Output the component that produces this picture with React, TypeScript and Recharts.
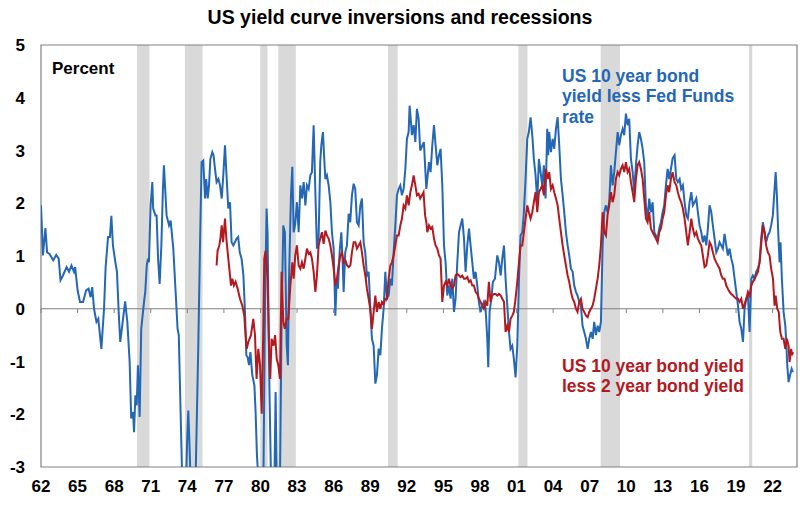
import React from "react";
import { LineChart, Line, XAxis, YAxis, ReferenceArea, ReferenceLine } from "recharts";

// US 10y bond yield less Fed Funds rate: [year, percent]
const blueSeries: [number, number][] = [
  [1962.0, 1.96], [1962.16, 1.01], [1962.36, 1.53], [1962.5, 1.07], [1962.7, 1.04], [1963.0, 0.92],
  [1963.25, 1.02], [1963.45, 0.95], [1963.6, 0.54], [1963.8, 0.63], [1964.1, 0.79], [1964.3, 0.7],
  [1964.5, 0.82], [1964.7, 0.7], [1964.8, 0.79], [1965.0, 0.35], [1965.2, 0.13], [1965.45, 0.13],
  [1965.7, 0.35], [1965.9, 0.38], [1966.07, 0.22], [1966.2, 0.41], [1966.35, 0.0], [1966.55, -0.25],
  [1966.7, -0.19], [1966.95, -0.76], [1967.17, 0.0], [1967.3, 0.79], [1967.5, 1.36], [1967.65, 1.36],
  [1967.77, 1.76], [1967.9, 1.2], [1968.1, 0.88], [1968.23, 0.7], [1968.37, -0.06], [1968.5, -0.63],
  [1968.7, -0.25], [1968.9, 0.14], [1969.08, -0.25], [1969.27, -1.01], [1969.4, -2.08], [1969.55, -1.96],
  [1969.63, -2.34], [1969.74, -1.64], [1969.85, -1.83], [1969.95, -1.07], [1970.09, -2.05], [1970.22, -0.38],
  [1970.45, 0.13], [1970.55, 0.32], [1970.67, 0.82], [1970.77, 0.95], [1970.85, 0.88], [1970.99, 1.96],
  [1971.13, 2.4], [1971.2, 1.9], [1971.38, 1.77], [1971.48, 1.77], [1971.6, 0.95], [1971.73, 0.47],
  [1971.87, 1.2], [1972.0, 2.27], [1972.08, 2.72], [1972.3, 1.77], [1972.5, 1.58], [1972.63, 1.67],
  [1972.85, 1.14], [1973.04, 0.32], [1973.2, -0.38], [1973.3, -0.5], [1973.48, -2.27], [1973.59, -3.3],
  [1973.7, -4.2], [1973.86, -3.6], [1974.0, -2.4], [1974.08, -1.93], [1974.18, -2.6], [1974.3, -3.5],
  [1974.45, -4.5], [1974.6, -4.0], [1974.68, -3.2], [1974.9, -0.7], [1975.04, 1.2], [1975.17, 2.78],
  [1975.31, 2.81], [1975.45, 2.09], [1975.55, 2.46], [1975.67, 2.09], [1975.78, 2.34], [1975.89, 2.84],
  [1976.05, 2.97], [1976.15, 2.91], [1976.27, 2.65], [1976.4, 2.4], [1976.55, 2.46], [1976.68, 2.34],
  [1976.82, 2.09], [1976.95, 2.53], [1977.09, 3.1], [1977.2, 2.59], [1977.36, 1.9], [1977.5, 2.02],
  [1977.63, 1.26], [1977.77, 1.2], [1977.9, 1.26], [1978.04, 1.33], [1978.17, 1.36], [1978.3, 1.07],
  [1978.45, 0.95], [1978.6, 0.63], [1978.73, -0.06], [1978.84, -0.88], [1978.95, -0.92], [1979.06, -1.07],
  [1979.17, -0.82], [1979.33, -1.26], [1979.5, -1.45], [1979.6, -1.96], [1979.71, -2.78], [1979.82, -3.2],
  [1979.95, -4.0], [1980.1, -5.0], [1980.23, -3.5], [1980.37, 0.06], [1980.5, 1.9], [1980.58, 1.45],
  [1980.72, -1.33], [1980.86, -3.2], [1981.0, -5.5], [1981.13, -3.5], [1981.24, -1.58], [1981.35, -3.5],
  [1981.5, -4.5], [1981.6, -3.2], [1981.73, -0.25], [1981.87, 1.58], [1982.0, 1.45], [1982.15, -0.7],
  [1982.25, -1.07], [1982.34, 0.57], [1982.5, 2.15], [1982.61, 2.69], [1982.72, 1.45], [1982.85, 1.61],
  [1982.99, 2.02], [1983.13, 1.45], [1983.27, 2.34], [1983.4, 2.09], [1983.54, 2.4], [1983.68, 1.96],
  [1983.81, 2.34], [1983.95, 2.27], [1984.09, 2.53], [1984.22, 2.59], [1984.36, 3.48], [1984.5, 2.21],
  [1984.63, 1.14], [1984.77, 1.39], [1984.9, 2.78], [1984.99, 3.1], [1985.12, 3.35], [1985.23, 2.84],
  [1985.32, 2.46], [1985.45, 2.53], [1985.59, 2.34], [1985.73, 2.02], [1985.86, 1.45], [1986.0, 1.14],
  [1986.14, -0.13], [1986.25, 0.57], [1986.35, 0.38], [1986.49, 1.07], [1986.63, 1.45], [1986.74, 0.88],
  [1986.82, 0.32], [1986.95, 1.07], [1987.09, 1.2], [1987.23, 1.8], [1987.36, 1.64], [1987.5, 2.15],
  [1987.64, 2.37], [1987.77, 2.27], [1987.91, 1.64], [1988.05, 1.58], [1988.19, 1.96], [1988.32, 2.09],
  [1988.46, 1.26], [1988.59, 1.07], [1988.73, 0.63], [1988.87, 0.7], [1989.0, 0.06], [1989.14, -0.57],
  [1989.28, -0.7], [1989.42, -1.42], [1989.55, -1.26], [1989.69, -0.76], [1989.83, -0.88], [1989.96, -0.38],
  [1990.1, 0.0], [1990.24, 0.7], [1990.37, 0.19], [1990.51, 0.25], [1990.65, 0.57], [1990.78, 0.44],
  [1990.92, 1.07], [1991.06, 1.58], [1991.19, 2.15], [1991.33, 2.27], [1991.47, 2.34], [1991.6, 2.15],
  [1991.74, 2.27], [1991.88, 2.65], [1992.01, 3.22], [1992.15, 3.35], [1992.23, 3.85], [1992.34, 3.54],
  [1992.42, 3.29], [1992.56, 3.48], [1992.7, 3.16], [1992.83, 3.79], [1992.97, 3.6], [1993.1, 3.0],
  [1993.4, 3.16], [1993.6, 2.27], [1993.82, 2.78], [1993.95, 2.59], [1994.09, 3.1], [1994.23, 3.48],
  [1994.36, 3.1], [1994.5, 2.72], [1994.64, 2.91], [1994.77, 3.03], [1994.91, 2.34], [1995.05, 1.2],
  [1995.18, 0.88], [1995.32, 0.25], [1995.46, 0.44], [1995.59, 0.19], [1995.73, 0.57], [1995.87, -0.06],
  [1996.0, 0.19], [1996.14, 0.88], [1996.28, 1.45], [1996.41, 1.58], [1996.55, 1.71], [1996.69, 1.33],
  [1996.82, 0.7], [1996.96, 1.2], [1997.1, 1.52], [1997.23, 1.2], [1997.37, 0.88], [1997.5, 0.57],
  [1997.64, 0.7], [1997.78, 0.44], [1997.91, 0.13], [1998.05, -0.06], [1998.19, 0.06], [1998.32, 0.13],
  [1998.46, 0.0], [1998.6, -0.57], [1998.68, -1.11], [1998.79, -0.06], [1998.93, 0.19], [1999.06, 0.51],
  [1999.23, 0.57], [1999.42, 1.01], [1999.56, 0.88], [1999.7, 0.63], [1999.83, 0.95], [1999.97, 1.2],
  [2000.1, 0.57], [2000.24, 0.06], [2000.38, -0.44], [2000.51, -0.76], [2000.65, -0.7], [2000.78, -0.95],
  [2000.92, -1.3], [2001.06, -0.7], [2001.2, 0.57], [2001.33, 1.39], [2001.47, 1.45], [2001.6, 1.83],
  [2001.74, 2.46], [2001.88, 3.22], [2002.01, 3.35], [2002.15, 3.63], [2002.29, 3.29], [2002.42, 2.84],
  [2002.56, 2.53], [2002.7, 2.02], [2002.83, 2.84], [2002.97, 2.59], [2003.11, 2.34], [2003.24, 2.72],
  [2003.38, 2.09], [2003.52, 3.41], [2003.6, 2.91], [2003.68, 3.35], [2003.82, 2.97], [2003.96, 3.22],
  [2004.09, 3.03], [2004.23, 3.41], [2004.37, 3.63], [2004.5, 3.1], [2004.64, 2.46], [2004.78, 2.15],
  [2004.91, 1.83], [2005.05, 1.45], [2005.19, 1.2], [2005.32, 1.01], [2005.46, 0.76], [2005.6, 0.7],
  [2005.73, 0.44], [2005.87, 0.32], [2006.0, 0.25], [2006.14, 0.13], [2006.28, 0.06], [2006.41, -0.32],
  [2006.55, -0.44], [2006.69, -0.57], [2006.83, -0.76], [2006.96, -0.57], [2007.1, -0.44], [2007.24, -0.57],
  [2007.37, -0.25], [2007.51, -0.5], [2007.65, -0.32], [2007.78, -0.44], [2007.92, -0.25], [2008.06, 1.2],
  [2008.19, 1.83], [2008.33, 1.96], [2008.46, 1.83], [2008.6, 2.02], [2008.74, 2.72], [2008.88, 2.34],
  [2009.01, 2.59], [2009.15, 2.97], [2009.29, 3.35], [2009.42, 3.1], [2009.56, 3.29], [2009.7, 3.41],
  [2009.83, 3.29], [2009.97, 3.7], [2010.11, 3.48], [2010.24, 3.6], [2010.38, 2.84], [2010.52, 2.59],
  [2010.65, 2.21], [2010.79, 2.72], [2010.93, 3.1], [2011.06, 3.35], [2011.2, 3.22], [2011.34, 3.03],
  [2011.47, 2.78], [2011.61, 1.96], [2011.75, 1.71], [2011.88, 2.09], [2012.02, 1.83], [2012.16, 2.02],
  [2012.3, 1.45], [2012.43, 1.39], [2012.57, 1.33], [2012.7, 1.52], [2012.84, 1.64], [2012.98, 1.83],
  [2013.11, 1.96], [2013.25, 2.34], [2013.39, 2.65], [2013.52, 2.46], [2013.66, 2.65], [2013.8, 2.85],
  [2013.96, 2.91], [2014.1, 2.46], [2014.23, 2.4], [2014.37, 2.46], [2014.5, 2.27], [2014.64, 2.34],
  [2014.78, 2.02], [2014.92, 1.77], [2015.05, 1.71], [2015.19, 2.02], [2015.33, 2.21], [2015.46, 1.96],
  [2015.6, 2.02], [2015.74, 2.09], [2015.87, 1.83], [2016.01, 1.58], [2016.15, 1.45], [2016.28, 1.26],
  [2016.42, 1.39], [2016.56, 1.2], [2016.69, 1.52], [2016.83, 1.96], [2016.97, 1.83], [2017.1, 1.58],
  [2017.24, 1.33], [2017.38, 1.07], [2017.51, 1.14], [2017.65, 1.26], [2017.79, 1.2], [2017.92, 1.14],
  [2018.06, 1.42], [2018.2, 1.2], [2018.33, 1.01], [2018.47, 1.14], [2018.61, 0.95], [2018.75, 0.82],
  [2018.88, 0.57], [2019.02, 0.32], [2019.16, 0.06], [2019.29, -0.25], [2019.43, -0.38], [2019.57, -0.63],
  [2019.7, 0.0], [2019.84, 0.19], [2019.98, 0.25], [2020.11, -0.44], [2020.25, 0.57], [2020.38, 0.63],
  [2020.52, 0.57], [2020.65, 0.7], [2020.79, 0.76], [2020.93, 0.88], [2021.06, 1.33], [2021.2, 1.64],
  [2021.34, 1.45], [2021.47, 1.26], [2021.61, 1.39], [2021.75, 1.45], [2021.88, 1.58], [2022.02, 1.77],
  [2022.16, 2.27], [2022.25, 2.59], [2022.35, 2.15], [2022.46, 1.45], [2022.57, 0.88], [2022.65, 1.26],
  [2022.76, 0.57], [2022.9, -0.06], [2023.04, -0.32], [2023.12, -0.63], [2023.2, -1.07], [2023.31, -1.39],
  [2023.43, -1.26], [2023.56, -1.14], [2023.66, -1.2],
];

// US 10y bond yield less 2y bond yield: [year, percent]
const redSeries: [number, number][] = [
  [1976.4, 0.82], [1976.48, 1.1], [1976.62, 1.2], [1976.72, 1.35], [1976.82, 1.58], [1976.93, 1.26],
  [1977.09, 1.71], [1977.2, 1.33], [1977.36, 0.95], [1977.5, 0.63], [1977.58, 0.44], [1977.69, 0.57],
  [1977.82, 0.44], [1977.96, 0.51], [1978.13, 0.38], [1978.32, 0.19], [1978.51, 0.06], [1978.67, -0.13],
  [1978.78, -0.5], [1978.87, -0.76], [1979.0, -0.63], [1979.22, -0.5], [1979.41, -0.19], [1979.55, -0.5],
  [1979.68, -1.33], [1979.82, -0.76], [1979.96, -1.07], [1980.1, -1.99], [1980.23, -0.38], [1980.31, 0.95],
  [1980.42, 1.1], [1980.58, 0.57], [1980.7, -0.7], [1980.8, -1.33], [1980.91, -0.57], [1981.07, -0.7],
  [1981.2, -0.5], [1981.33, -0.95], [1981.46, -1.07], [1981.6, -1.33], [1981.73, 0.7], [1981.87, -0.25],
  [1982.0, -0.38], [1982.14, -0.19], [1982.28, -0.19], [1982.45, 0.44], [1982.61, 0.88], [1982.72, 0.57],
  [1982.85, 1.01], [1982.99, 1.2], [1983.13, 0.82], [1983.27, 0.76], [1983.4, 0.88], [1983.54, 0.76],
  [1983.68, 0.95], [1983.81, 1.14], [1983.95, 1.04], [1984.09, 1.07], [1984.22, 0.95], [1984.36, 0.7],
  [1984.5, 0.32], [1984.63, 0.63], [1984.77, 1.2], [1984.9, 1.33], [1985.04, 1.45], [1985.18, 1.23],
  [1985.32, 1.48], [1985.45, 1.39], [1985.59, 1.33], [1985.73, 1.2], [1985.86, 1.01], [1986.0, 0.76],
  [1986.14, 0.44], [1986.27, 0.57], [1986.41, 0.82], [1986.55, 1.01], [1986.68, 1.07], [1986.82, 0.88],
  [1986.96, 0.92], [1987.1, 0.82], [1987.23, 0.79], [1987.37, 0.82], [1987.5, 1.07], [1987.64, 1.26],
  [1987.78, 1.26], [1987.91, 1.14], [1988.05, 1.2], [1988.19, 1.26], [1988.32, 1.07], [1988.46, 0.82],
  [1988.6, 0.63], [1988.73, 0.38], [1988.87, 0.19], [1989.0, 0.0], [1989.14, -0.38], [1989.28, -0.06],
  [1989.42, 0.25], [1989.55, -0.06], [1989.69, 0.13], [1989.83, 0.0], [1989.96, 0.13], [1990.1, 0.09],
  [1990.24, 0.19], [1990.37, 0.19], [1990.51, 0.57], [1990.65, 0.82], [1990.78, 0.88], [1990.92, 1.01],
  [1991.06, 1.2], [1991.19, 1.39], [1991.33, 1.39], [1991.47, 1.58], [1991.6, 1.71], [1991.74, 1.96],
  [1991.88, 1.9], [1992.01, 2.15], [1992.15, 1.96], [1992.29, 2.21], [1992.42, 2.34], [1992.56, 2.53],
  [1992.7, 2.34], [1992.83, 2.15], [1992.97, 2.18], [1993.1, 2.09], [1993.24, 2.15], [1993.37, 2.21],
  [1993.5, 1.77], [1993.6, 1.64], [1993.68, 1.45], [1993.82, 1.58], [1993.95, 1.52], [1994.09, 1.55],
  [1994.23, 1.33], [1994.36, 1.2], [1994.5, 1.14], [1994.64, 1.01], [1994.77, 0.95], [1994.91, 0.13],
  [1995.05, 0.44], [1995.18, 0.51], [1995.32, 0.44], [1995.46, 0.57], [1995.59, 0.44], [1995.73, 0.38],
  [1995.87, 0.44], [1996.0, 0.63], [1996.14, 0.66], [1996.28, 0.63], [1996.41, 0.6], [1996.55, 0.63],
  [1996.69, 0.57], [1996.82, 0.57], [1996.96, 0.6], [1997.1, 0.51], [1997.23, 0.54], [1997.37, 0.44],
  [1997.5, 0.44], [1997.64, 0.32], [1997.78, 0.28], [1997.91, 0.19], [1998.05, 0.13], [1998.19, 0.06],
  [1998.32, 0.0], [1998.46, 0.13], [1998.6, 0.06], [1998.73, 0.51], [1998.87, 0.13], [1999.0, 0.25],
  [1999.14, 0.28], [1999.28, 0.28], [1999.42, 0.25], [1999.56, 0.28], [1999.7, 0.25], [1999.83, 0.19],
  [1999.97, 0.13], [2000.1, -0.44], [2000.24, -0.32], [2000.38, -0.44], [2000.51, -0.19], [2000.65, -0.13],
  [2000.78, -0.06], [2000.92, 0.19], [2001.06, 0.51], [2001.2, 0.88], [2001.33, 1.2], [2001.47, 1.2],
  [2001.6, 1.45], [2001.74, 1.71], [2001.88, 1.96], [2002.01, 1.83], [2002.15, 1.71], [2002.29, 1.83],
  [2002.42, 2.02], [2002.56, 2.21], [2002.7, 1.83], [2002.83, 2.21], [2002.97, 2.27], [2003.11, 2.34],
  [2003.24, 2.15], [2003.33, 2.46], [2003.41, 2.65], [2003.55, 2.46], [2003.68, 2.59], [2003.82, 2.27],
  [2003.96, 2.34], [2004.09, 2.21], [2004.23, 2.09], [2004.37, 1.96], [2004.5, 1.71], [2004.64, 1.45],
  [2004.78, 1.2], [2004.91, 1.01], [2005.05, 0.82], [2005.19, 0.63], [2005.32, 0.51], [2005.46, 0.32],
  [2005.6, 0.19], [2005.73, 0.13], [2005.87, 0.0], [2006.0, -0.06], [2006.14, 0.13], [2006.28, 0.19],
  [2006.41, 0.0], [2006.55, -0.06], [2006.69, -0.13], [2006.83, -0.16], [2006.96, -0.06], [2007.1, 0.0],
  [2007.24, 0.06], [2007.37, 0.19], [2007.51, 0.38], [2007.65, 0.57], [2007.78, 0.82], [2007.92, 1.2],
  [2008.06, 1.83], [2008.19, 1.45], [2008.33, 1.39], [2008.46, 1.77], [2008.6, 1.96], [2008.74, 2.21],
  [2008.88, 2.02], [2009.01, 2.15], [2009.15, 2.46], [2009.29, 2.59], [2009.42, 2.53], [2009.56, 2.65],
  [2009.7, 2.72], [2009.83, 2.59], [2009.97, 2.78], [2010.11, 2.59], [2010.24, 2.65], [2010.38, 2.4],
  [2010.52, 2.21], [2010.65, 2.02], [2010.79, 2.46], [2010.93, 2.72], [2011.06, 2.78], [2011.2, 2.65],
  [2011.34, 2.46], [2011.47, 2.09], [2011.61, 1.71], [2011.75, 1.64], [2011.88, 1.83], [2012.02, 1.52],
  [2012.16, 1.45], [2012.3, 1.39], [2012.43, 1.33], [2012.57, 1.26], [2012.7, 1.45], [2012.84, 1.52],
  [2012.98, 1.71], [2013.11, 1.83], [2013.25, 2.15], [2013.39, 2.34], [2013.52, 2.21], [2013.66, 2.46],
  [2013.8, 2.59], [2013.96, 2.4], [2014.1, 2.34], [2014.23, 2.21], [2014.37, 2.09], [2014.5, 2.02],
  [2014.64, 1.9], [2014.78, 1.71], [2014.92, 1.45], [2015.05, 1.2], [2015.19, 1.45], [2015.33, 1.71],
  [2015.46, 1.52], [2015.6, 1.39], [2015.74, 1.45], [2015.87, 1.33], [2016.01, 1.26], [2016.15, 1.2],
  [2016.28, 1.01], [2016.42, 0.79], [2016.56, 0.82], [2016.69, 1.01], [2016.83, 1.26], [2016.97, 1.2],
  [2017.1, 1.07], [2017.24, 0.95], [2017.38, 0.88], [2017.51, 0.82], [2017.65, 0.76], [2017.79, 0.63],
  [2017.92, 0.57], [2018.06, 0.57], [2018.2, 0.44], [2018.33, 0.38], [2018.47, 0.32], [2018.61, 0.28],
  [2018.75, 0.25], [2018.88, 0.22], [2019.02, 0.19], [2019.16, 0.19], [2019.29, 0.13], [2019.43, 0.19],
  [2019.57, 0.0], [2019.7, 0.09], [2019.84, 0.19], [2019.98, 0.32], [2020.11, 0.25], [2020.25, 0.44],
  [2020.38, 0.51], [2020.52, 0.57], [2020.65, 0.63], [2020.79, 0.7], [2020.93, 0.88], [2021.06, 1.2],
  [2021.2, 1.58], [2021.34, 1.45], [2021.47, 1.2], [2021.61, 1.07], [2021.75, 1.01], [2021.88, 0.76],
  [2022.03, 0.57], [2022.16, 0.06], [2022.25, 0.25], [2022.38, 0.0], [2022.5, -0.06], [2022.63, -0.44],
  [2022.76, -0.57], [2022.9, -0.57], [2023.04, -0.76], [2023.17, -0.57], [2023.31, -0.7], [2023.39, -1.01],
  [2023.52, -0.76], [2023.6, -0.88], [2023.66, -0.82],
];

// US recessions (start, end) in fractional years
const recessions: [number, number][] = [
  [1969.87, 1970.9], [1973.8, 1975.25], [1979.98, 1980.58], [1981.46, 1982.9],
  [1990.46, 1991.25], [2001.15, 2001.9], [2007.9, 2009.48], [2020.06, 2020.33],
];

const xTicks = [1962, 1965, 1968, 1971, 1974, 1977, 1980, 1983, 1986, 1989, 1992, 1995, 1998, 2001, 2004, 2007, 2010, 2013, 2016, 2019, 2022];
const yTicks = [-3, -2, -1, 0, 1, 2, 3, 4, 5];

const FONT = '"Liberation Sans", Arial, Helvetica, sans-serif';
const BLUE = "#2467b5";
const RED = "#b3191e";
const GRID = "#808080";

const blueData = blueSeries.map(([x, v]) => ({ x, v }));
const redData = redSeries.map(([x, v]) => ({ x, v }));

const fmtYear = (y: number) => String(y % 100).padStart(2, "0");

export default function App() {
  const tickStyle = { fontFamily: FONT, fontSize: 17, fontWeight: 700, fill: "#000" };
  return (
    <div style={{ position: "absolute", left: 0, top: 0, width: 800, height: 507, background: "#fff", fontFamily: FONT }}>
      <LineChart width={800} height={507} margin={{ top: 45, right: 3, bottom: 10, left: 0 }}>
        <XAxis
          type="number"
          dataKey="x"
          domain={[1962, 2024]}
          ticks={xTicks}
          tickFormatter={fmtYear}
          axisLine={false}
          tickLine={false}
          tickSize={6}
          tickMargin={7}
          height={30}
          allowDataOverflow
          interval={0}
          tick={tickStyle}
        />
        <YAxis
          type="number"
          domain={[-3, 5]}
          ticks={yTicks}
          axisLine={false}
          tickLine={false}
          tickSize={6}
          tickMargin={10}
          width={41}
          allowDataOverflow
          interval={0}
          tick={tickStyle}
        />
        {recessions.map(([a, b], i) => (
          <ReferenceArea key={"r" + i} x1={a} x2={b} y1={-3} y2={5} fill="#d9d9d9" fillOpacity={1} stroke="none" />
        ))}
        <ReferenceLine y={0} stroke={GRID} strokeWidth={1.2} />
        {xTicks.map((t) => (
          <ReferenceLine key={"t" + t} segment={[{ x: t, y: 0 }, { x: t, y: -0.08 }]} stroke={GRID} strokeWidth={1} />
        ))}
        <Line data={blueData} dataKey="v" type="linear" stroke={BLUE} strokeWidth={2} dot={false} isAnimationActive={false} />
        <Line data={redData} dataKey="v" type="linear" stroke={RED} strokeWidth={2} dot={false} isAnimationActive={false} />
        <ReferenceArea x1={1962} x2={2024} y1={-3} y2={5} fill="none" stroke={GRID} strokeWidth={1.2} />
      </LineChart>
      <div style={{ position: "absolute", left: 0, width: 800, top: 8, textAlign: "center", fontSize: 19.5, lineHeight: 1, fontWeight: 700, color: "#000", whiteSpace: "nowrap" }}>
        US yield curve inversions and recessions
      </div>
      <div style={{ position: "absolute", left: 52, top: 59.5, fontSize: 17, lineHeight: 1, fontWeight: 700, color: "#000" }}>
        Percent
      </div>
      <div style={{ position: "absolute", left: 562, top: 66, fontSize: 17.5, lineHeight: "20.4px", fontWeight: 700, color: BLUE, whiteSpace: "nowrap" }}>
        US 10 year bond<br />yield less Fed Funds<br />rate
      </div>
      <div style={{ position: "absolute", left: 562, top: 355.6, fontSize: 17.5, lineHeight: "20px", fontWeight: 700, color: RED, whiteSpace: "nowrap" }}>
        US 10 year bond yield<br />less 2 year bond yield
      </div>
    </div>
  );
}
